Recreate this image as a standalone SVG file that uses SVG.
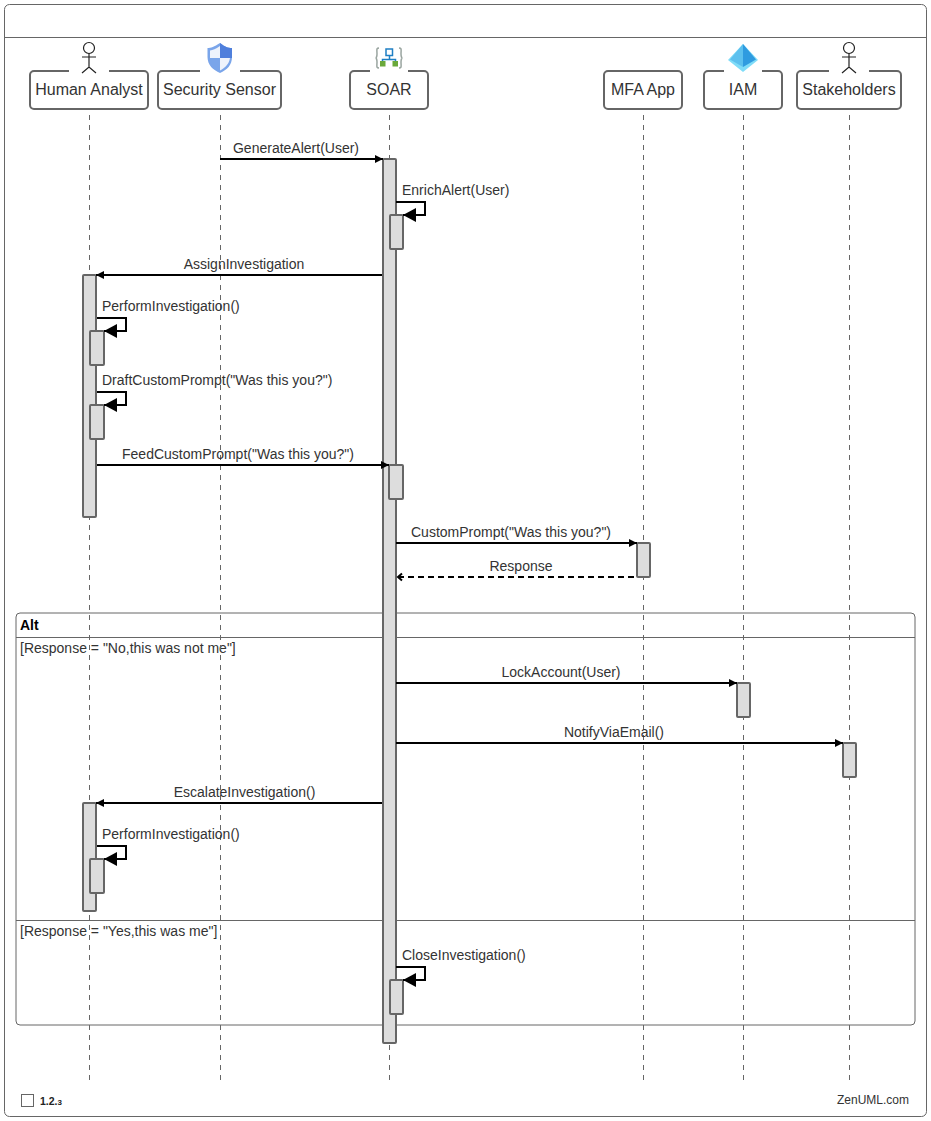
<svg xmlns="http://www.w3.org/2000/svg" width="931" height="1121" viewBox="0 0 931 1121">
<style>
text{font-family:"Liberation Sans",Arial,sans-serif;font-size:14px;fill:#333}
.m{text-anchor:middle}
.pt{font-size:16px;text-anchor:middle;fill:#333}
.box{fill:#fff;stroke:#666;stroke-width:2}
.life{stroke:#666;stroke-width:1;stroke-dasharray:5 5;fill:none}
.act{fill:#ddd;stroke:#666;stroke-width:2}
.msg{stroke:#000;stroke-width:2;fill:none}
.frame{fill:none;stroke:#666;stroke-width:1}
.stick{fill:none;stroke:#222;stroke-width:1.2}
</style>
<defs>
<marker id="a" markerUnits="userSpaceOnUse" markerWidth="10" markerHeight="10" refX="8" refY="5" orient="auto"><path d="M0 1 L8 5 L0 9z" fill="#000"/></marker>
<marker id="b" markerUnits="userSpaceOnUse" markerWidth="14" markerHeight="16" refX="13" refY="7" orient="auto"><path d="M0 0 L13 7 L0 14z" fill="#000"/></marker>
<marker id="o" markerUnits="userSpaceOnUse" markerWidth="10" markerHeight="10" refX="2" refY="5" orient="auto"><path d="M6 1.500 L2 5 L6 8.500" fill="none" stroke="#000" stroke-width="2"/></marker>
</defs>
<rect id="outer" x="4.500" y="4.500" width="922" height="1112" rx="5" fill="#fff" stroke="#666"/>
<path d="M5 37.500H926" stroke="#666"/>
<g id="frame-alt">
<rect class="frame" x="16" y="613" width="899" height="412" rx="4"/>
<path class="frame" d="M16 637.500H915M16 920.500H915"/>
<text x="20" y="630" style="font-weight:bold;fill:#000">Alt</text>
<text x="20" y="653">[Response = "No,this was not me"]</text>
<text x="20" y="936">[Response = "Yes,this was me"]</text>
</g>
<g id="lifelines">
<path class="life" d="M89.500 115V1080"/>
<path class="life" d="M220.500 115V1080"/>
<path class="life" d="M389.500 115V1080"/>
<path class="life" d="M643.500 115V1080"/>
<path class="life" d="M743.500 115V1080"/>
<path class="life" d="M849.500 115V1080"/>
</g>
<g id="p-human">
<path class="box" d="M69 71H34a4 4 0 0 0-4 4V105a4 4 0 0 0 4 4H144a4 4 0 0 0 4-4V75a4 4 0 0 0-4-4H109"/>
<g class="stick"><circle cx="89" cy="48" r="5.500"/><path d="M89 53.500V67M82 57H96M82 73L89 67L96 73"/></g>
<text class="pt" x="89" y="95">Human Analyst</text>
</g>
<g id="p-sensor">
<path class="box" d="M200 71H162a4 4 0 0 0-4 4V105a4 4 0 0 0 4 4H277a4 4 0 0 0 4-4V75a4 4 0 0 0-4-4H240"/>
<path d="M220 43C214 47 211 48 207.500 48V57C207.500 65 213 70 220 73C227 70 232 65 232 57V48C228 48 225 47 220 43Z" fill="#7aa5ea"/>
<path d="M220 43C225 47 228 48 232 48V58H220Z" fill="#4f7fdc"/>
<path d="M220 46C215.500 49 213 50 210 50.500V58H220Z" fill="#eef3fc"/>
<path d="M220 58H230C229 64 225 68 220 70.500Z" fill="#eef3fc"/>
<text class="pt" x="219.500" y="95">Security Sensor</text>
</g>
<g id="p-soar">
<path class="box" d="M370 71H354a4 4 0 0 0-4 4V105a4 4 0 0 0 4 4H424a4 4 0 0 0 4-4V75a4 4 0 0 0-4-4H408"/>
<path d="M379 48C376 48 377 50 377 54C377 57 376 58 375.500 58C376 58 377 59 377 62C377 66 376 68 379 68M399 48C402 48 401 50 401 54C401 57 402 58 402.500 58C402 58 401 59 401 62C401 66 402 68 399 68" fill="none" stroke="#9aa5a0" stroke-width="1.500"/>
<rect x="386" y="49" width="6.500" height="6.500" fill="#fff" stroke="#1f7fc4" stroke-width="1.500"/>
<path d="M389.500 56V59.500M382.500 62V59.500H395.500V62" fill="none" stroke="#1f7fc4" stroke-width="1.500"/>
<rect x="380" y="61" width="5.500" height="5.500" fill="#6aa83a"/><rect x="392.500" y="61" width="5.500" height="5.500" fill="#6aa83a"/>
<text class="pt" x="389" y="95">SOAR</text>
</g>
<g id="p-mfa">
<rect class="box" x="604" y="71" width="78" height="38" rx="4"/>
<text class="pt" x="643" y="95">MFA App</text>
</g>
<g id="p-iam">
<path class="box" d="M724 71H708a4 4 0 0 0-4 4V105a4 4 0 0 0 4 4H778a4 4 0 0 0 4-4V75a4 4 0 0 0-4-4H762"/>
<path d="M743 44L728 60L743 72L758 60Z" fill="#7fdcf8"/>
<path d="M743 44L730 59.500L743 67Z" fill="#5cc0ee"/>
<path d="M743 44L756 59.500L743 67Z" fill="#2f9be0"/>
<text class="pt" x="743" y="95">IAM</text>
</g>
<g id="p-stake">
<path class="box" d="M829 71H801a4 4 0 0 0-4 4V105a4 4 0 0 0 4 4H897a4 4 0 0 0 4-4V75a4 4 0 0 0-4-4H869"/>
<g class="stick"><circle cx="849" cy="48" r="5.500"/><path d="M849 53.500V67M842 57H856M842 73L849 67L856 73"/></g>
<text class="pt" x="849" y="95">Stakeholders</text>
</g>
<g id="activations">
<rect class="act" x="383" y="159" width="13" height="884" rx="1"/>
<rect class="act" x="390" y="215" width="13" height="34" rx="1"/>
<rect class="act" x="83" y="275" width="13" height="242" rx="1"/>
<rect class="act" x="90" y="331" width="14" height="34" rx="1"/>
<rect class="act" x="90" y="405" width="14" height="34" rx="1"/>
<rect class="act" x="389" y="465" width="14" height="34" rx="1"/>
<rect class="act" x="637" y="543" width="13" height="34" rx="1"/>
<rect class="act" x="737" y="683" width="13" height="34" rx="1"/>
<rect class="act" x="843" y="743" width="13" height="34" rx="1"/>
<rect class="act" x="83" y="803" width="13" height="108" rx="1"/>
<rect class="act" x="90" y="859" width="14" height="34" rx="1"/>
<rect class="act" x="390" y="980" width="13" height="34" rx="1"/>
</g>
<g id="connectors">
<path class="msg" marker-end="url(#a)" d="M220 159H383"/>
<path class="msg" marker-end="url(#b)" d="M396 202H425V215H403"/>
<path class="msg" marker-end="url(#a)" d="M382 275H96"/>
<path class="msg" marker-end="url(#b)" d="M97 318H126V331H104"/>
<path class="msg" marker-end="url(#b)" d="M97 392H126V405H104"/>
<path class="msg" marker-end="url(#a)" d="M97 465H389"/>
<path class="msg" marker-end="url(#a)" d="M396 543H637"/>
<path class="msg" marker-start="url(#o)" stroke-dasharray="6 4" d="M398 577H637"/>
<path class="msg" marker-end="url(#a)" d="M396 683H737"/>
<path class="msg" marker-end="url(#a)" d="M396 743H843"/>
<path class="msg" marker-end="url(#a)" d="M382 803H96"/>
<path class="msg" marker-end="url(#b)" d="M97 846H126V859H104"/>
<path class="msg" marker-end="url(#b)" d="M396 967H425V980H403"/>
</g>
<g id="labels">
<text class="m" x="296" y="153">GenerateAlert(User)</text>
<text x="402" y="195">EnrichAlert(User)</text>
<text class="m" x="244" y="269">AssignInvestigation</text>
<text x="102" y="311">PerformInvestigation()</text>
<text x="102" y="385">DraftCustomPrompt("Was this you?")</text>
<text class="m" x="238" y="459">FeedCustomPrompt("Was this you?")</text>
<text class="m" x="511" y="537">CustomPrompt("Was this you?")</text>
<text class="m" x="521" y="571">Response</text>
<text class="m" x="561" y="677">LockAccount(User)</text>
<text class="m" x="614" y="737">NotifyViaEmail()</text>
<text class="m" x="244.500" y="797">EscalateInvestigation()</text>
<text x="102" y="839">PerformInvestigation()</text>
<text x="402" y="960">CloseInvestigation()</text>
</g>
<g id="footer">
<rect x="21.500" y="1094.500" width="12" height="12" fill="#fff" stroke="#666"/>
<text x="40" y="1104.500" style="font-size:10.500px;font-weight:bold;fill:#222">1.2.<tspan style="font-size:8px">3</tspan></text>
<text x="909" y="1104" text-anchor="end" style="font-size:12px">ZenUML.com</text>
</g>
</svg>
